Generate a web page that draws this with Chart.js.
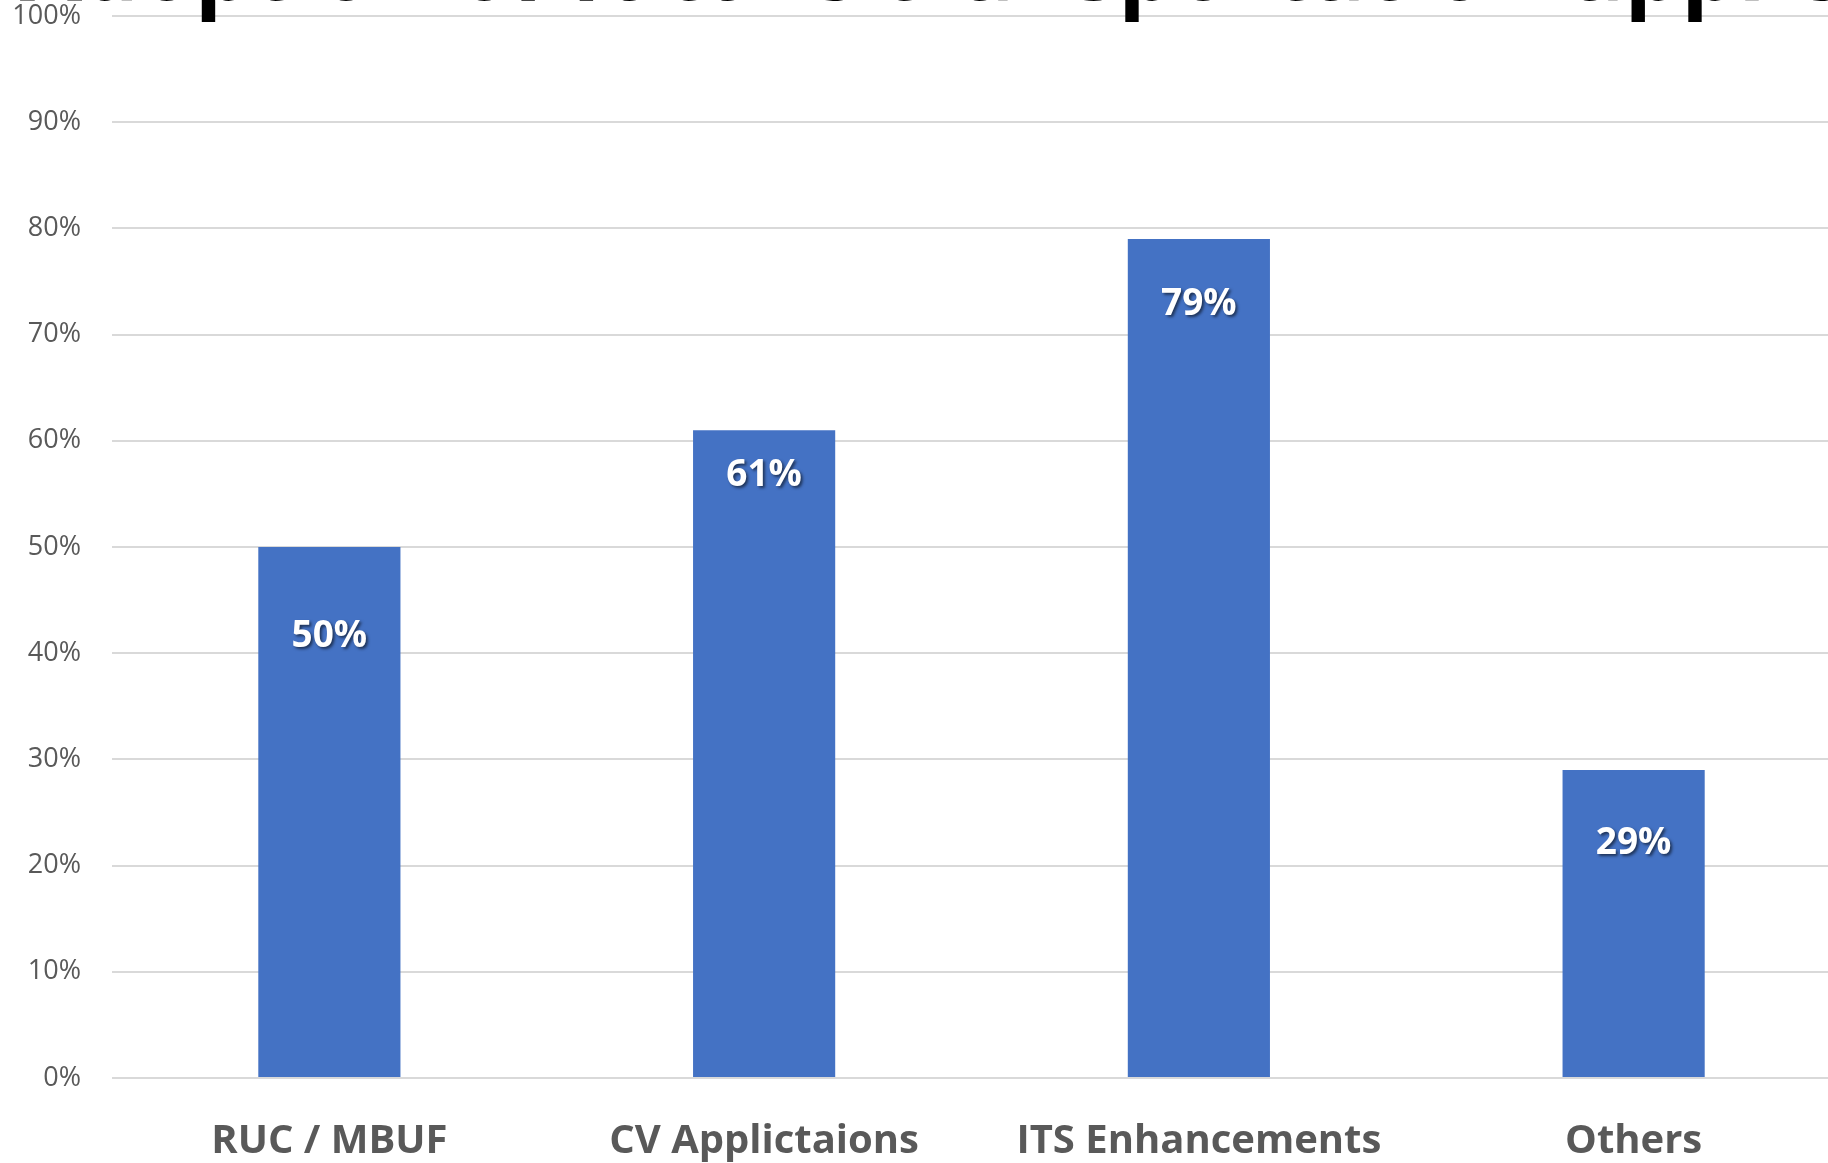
<!DOCTYPE html>
<html>
<head>
<meta charset="utf-8">
<script src="https://cdn.jsdelivr.net/npm/chart.js@4.4.1/dist/chart.umd.min.js"></script>
<style>
  html, body { margin: 0; padding: 0; overflow: hidden; background: #ffffff; }
  #wrap { position: relative; width: 1828px; height: 1163px; overflow: hidden; }
  canvas { display: block; }
</style>
</head>
<body>
<div id="wrap"><canvas id="chart" width="1851" height="1163"></canvas></div>
<script>
// Survey results: share of respondents per application type
const categories = ['RUC / MBUF', 'CV Applictaions', 'ITS Enhancements', 'Others'];
const shares = [50, 61, 79, 29];
const tickValues = [0, 10, 20, 30, 40, 50, 60, 70, 80, 90, 100];

// Distance of each value label below the top of its bar (px)
const labelDrop = [89, 45, 65, 73];

const titleText = 'Adoption of future transportation applications';

const barLabels = {
  id: 'barLabels',
  afterDatasetsDraw(chart) {
    const ctx = chart.ctx;
    const meta = chart.getDatasetMeta(0);
    ctx.save();
    ctx.font = 'bold 37px "Open Sans"';
    ctx.textAlign = 'center';
    ctx.textBaseline = 'middle';
    ctx.fillStyle = '#ffffff';
    ctx.shadowColor = 'rgba(0,0,0,0.55)';
    ctx.shadowBlur = 3;
    ctx.shadowOffsetX = 2;
    ctx.shadowOffsetY = 2;
    meta.data.forEach((bar, i) => {
      ctx.fillText(shares[i] + '%', bar.x, bar.y + labelDrop[i]);
    });
    ctx.restore();
  }
};

// Chart title, sitting mostly above the top edge of the canvas
const topTitle = {
  id: 'topTitle',
  afterDraw(chart) {
    const ctx = chart.ctx;
    ctx.save();
    ctx.font = 'bold 90px "Open Sans"';
    ctx.textAlign = 'left';
    ctx.textBaseline = 'alphabetic';
    ctx.fillStyle = '#000000';
    ctx.fillText(titleText, 20, 0);
    ctx.restore();
  }
};

new Chart(document.getElementById('chart'), {
  type: 'bar',
  data: {
    labels: categories,
    datasets: [{
      data: shares,
      backgroundColor: '#4472C4',
      borderWidth: 0,
      categoryPercentage: 1,
      barPercentage: 0.327
    }]
  },
  options: {
    responsive: false,
    animation: false,
    devicePixelRatio: 1,
    layout: { padding: { top: 16, left: 0, right: 0, bottom: 0 } },
    plugins: { legend: { display: false }, tooltip: { enabled: false }, title: { display: false } },
    scales: {
      x: {
        offset: true,
        grid: { display: false, drawTicks: false },
        border: { display: false },
        ticks: {
          color: '#595959',
          font: { family: '"Open Sans"', size: 40, weight: 'bold' },
          padding: 40,
          maxRotation: 0,
          autoSkip: false
        },
        afterFit(scale) { scale.height = 85; }
      },
      y: {
        min: 0,
        max: 100,
        afterBuildTicks(scale) { scale.ticks = tickValues.map(v => ({ value: v })); },
        grid: { color: '#d9d9d9', lineWidth: 2, drawTicks: false },
        border: { display: false },
        ticks: {
          color: '#595959',
          font: { family: '"Open Sans"', size: 27 },
          padding: 31,
          callback: v => v + '%'
        },
        afterFit(scale) {
          scale.width = 112;
          scale.paddingTop = 16;
          scale.paddingBottom = 16;
        }
      }
    }
  },
  plugins: [barLabels, topTitle]
});
</script>
</body>
</html>
